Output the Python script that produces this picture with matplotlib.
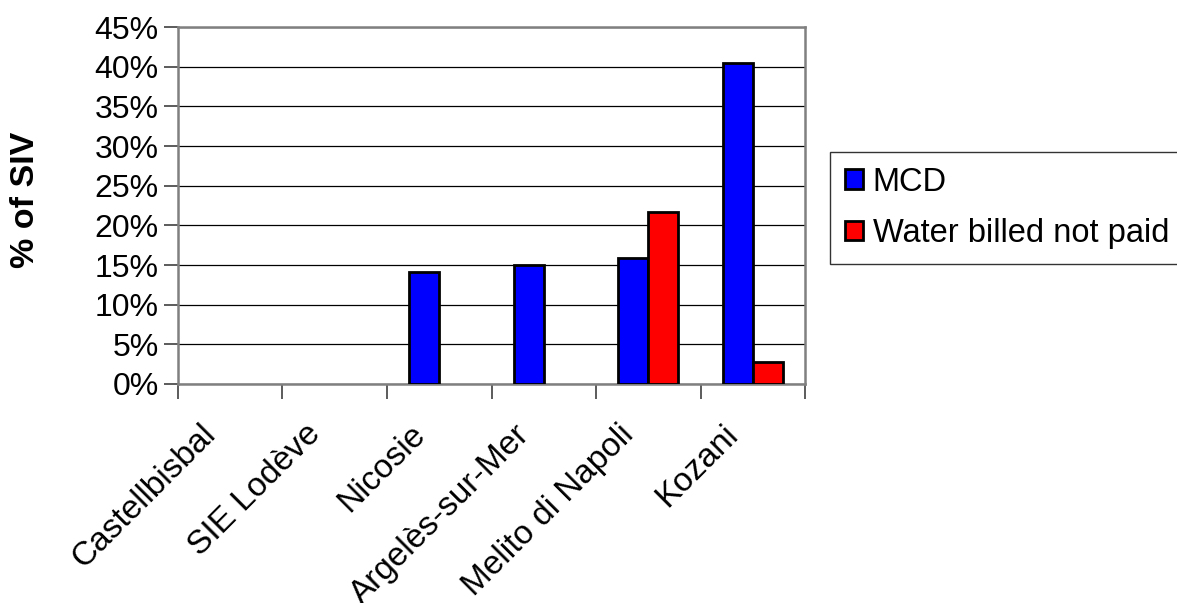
import matplotlib.pyplot as plt
import matplotlib.transforms as mtransforms
from matplotlib.patches import Patch
import numpy as np

plt.rcParams['font.family'] = ['Liberation Sans', 'DejaVu Sans']

sites = ['Castellbisbal', 'SIE Lodève', 'Nicosie', 'Argelès-sur-Mer',
         'Melito di Napoli', 'Kozani']
mcd = [0, 0, 14.1, 15.0, 15.9, 40.5]
water_not_paid = [0, 0, 0, 0, 21.7, 2.8]
yticks = [0, 5, 10, 15, 20, 25, 30, 35, 40, 45]

fig = plt.figure(figsize=(11.77, 6.03), dpi=100)
ax = fig.add_axes([0.1512, 0.3632, 0.5328, 0.5918])

x = np.arange(len(sites))
w = 1 / 3.5  # excel style: gap width 150%

b1 = ax.bar(x - w / 2, mcd, w, color='#0000FF', edgecolor='black',
            linewidth=2, zorder=3)
b2 = ax.bar(x + w / 2, water_not_paid, w, color='#FF0000', edgecolor='black',
            linewidth=2, zorder=3)
# empty values get no outline
for bars in (b1, b2):
    for p in bars.patches:
        if p.get_height() == 0:
            p.set_visible(False)

ax.set_xlim(-0.5, len(sites) - 0.5)
ax.set_ylim(0, 45)
ax.set_yticks(yticks)
ax.set_yticklabels([f'{v}%' for v in yticks], fontsize=23)
ax.yaxis.grid(True, color='black', linewidth=0.9, zorder=0)

# ticks on category boundaries, labels at category centres
ax.set_xticks(np.arange(len(sites) + 1) - 0.5)
ax.set_xticklabels([])
ax.set_xticks(x, minor=True)
ax.set_xticklabels(sites, minor=True, fontsize=24, rotation=45,
                   ha='right', va='top', rotation_mode='anchor')
ax.tick_params(axis='x', which='minor', length=0, pad=25)
ax.tick_params(axis='x', which='major', length=11, width=1.2, color='#404040')
ax.tick_params(axis='y', length=10, width=1.2, color='#404040', pad=4)
shift = mtransforms.ScaledTranslation(-0.30, 0, fig.dpi_scale_trans)
for lbl in ax.get_xticklabels(minor=True):
    lbl.set_transform(lbl.get_transform() + shift)

for side in ['left', 'bottom', 'right', 'top']:
    ax.spines[side].set_color('#808080')
    ax.spines[side].set_linewidth(1.8)

ax.set_ylabel('% of SIV', fontsize=24.5, fontweight='bold')
ax.yaxis.set_label_coords(-0.218, 0.515)

handles = [Patch(facecolor='#0000FF', edgecolor='black', linewidth=2),
           Patch(facecolor='#FF0000', edgecolor='black', linewidth=2)]
leg = ax.legend(handles, ['MCD', 'Water billed not paid'],
                loc='upper left', bbox_to_anchor=(1.04, 0.65), fontsize=23.5,
                frameon=True, fancybox=False, edgecolor='black',
                handlelength=0.55, handleheight=0.55, handletextpad=0.3,
                borderpad=0.45, labelspacing=0.62, borderaxespad=0)
leg.get_frame().set_linewidth(1.0)

fig.savefig('out.png', dpi=100)
